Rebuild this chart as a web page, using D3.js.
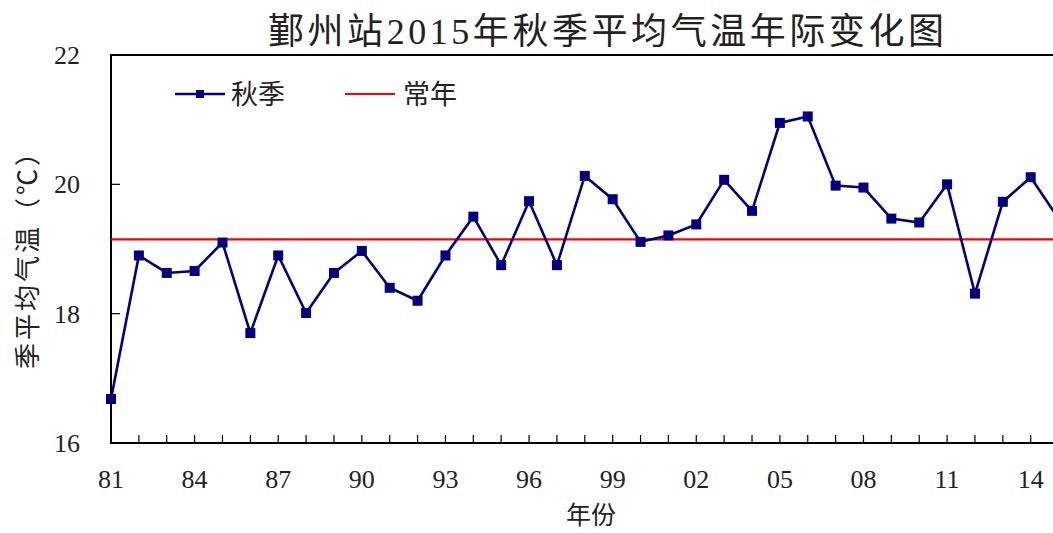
<!DOCTYPE html>
<html>
<head>
<meta charset="utf-8">
<script src="https://cdn.jsdelivr.net/npm/d3@7"></script>
<style>
  body { margin: 0; background: #fff; }
  text { fill: #222; }
</style>
</head>
<body>
<svg id="chart" width="1053" height="533"></svg>
<script>
// data
var years = [1981, 1982, 1983, 1984, 1985, 1986, 1987, 1988, 1989, 1990,
             1991, 1992, 1993, 1994, 1995, 1996, 1997, 1998, 1999, 2000,
             2001, 2002, 2003, 2004, 2005, 2006, 2007, 2008, 2009, 2010,
             2011, 2012, 2013, 2014, 2015];
var autumn = [16.68, 18.90, 18.63, 18.66, 19.10, 17.70, 18.90, 18.01, 18.63, 18.97,
              18.40, 18.20, 18.90, 19.50, 18.75, 19.74, 18.75, 20.13, 19.77, 19.11,
              19.21, 19.38, 20.07, 19.59, 20.95, 21.05, 19.98, 19.95, 19.47, 19.41,
              20.00, 18.31, 19.73, 20.11, 19.47];
var normal = 19.15;
var yTicks = [16, 18, 20, 22];
var xLabelYears = [1981, 1984, 1987, 1990, 1993, 1996, 1999, 2002, 2005, 2008, 2011, 2014];

var title = "鄞州站2015年秋季平均气温年际变化图";
var serif = "'Liberation Serif', 'Noto Sans CJK SC', serif";
var cjk = "'Noto Sans CJK SC', sans-serif";

var svg = d3.select("#chart");
var plotLeft = 111, plotTop = 55, plotBottom = 443;

var x = d3.scaleLinear().domain([1981, 2015]).range([plotLeft, plotLeft + 34 * 27.87]);
var y = d3.scaleLinear().domain([16, 22]).range([plotBottom, plotTop]);
var plotRight = x(2015);

// title
svg.append("text")
  .attr("x", 606).attr("y", 44)
  .attr("text-anchor", "middle")
  .style("font-family", serif)
  .style("font-size", "36px")
  .attr("textLength", 676)
  .text(title);

// frame
svg.append("rect")
  .attr("x", plotLeft).attr("y", plotTop)
  .attr("width", plotRight - plotLeft).attr("height", plotBottom - plotTop)
  .attr("fill", "none").attr("stroke", "#000").attr("stroke-width", 2);

// x ticks (inside), every year
svg.append("g").selectAll("line")
  .data(years)
  .join("line")
    .attr("x1", d => x(d)).attr("x2", d => x(d))
    .attr("y1", plotBottom).attr("y2", plotBottom - 8)
    .attr("stroke", "#000").attr("stroke-width", 1.2);

svg.append("g").selectAll("text")
  .data(xLabelYears)
  .join("text")
    .attr("x", d => x(d)).attr("y", 488)
    .attr("text-anchor", "middle")
    .style("font-family", serif).style("font-size", "26px")
    .text(d => String(d % 100).padStart(2, "0"));

// y ticks (inside)
svg.append("g").selectAll("line")
  .data(yTicks)
  .join("line")
    .attr("x1", plotLeft).attr("x2", plotLeft + 9)
    .attr("y1", d => y(d)).attr("y2", d => y(d))
    .attr("stroke", "#000").attr("stroke-width", 1.2);

svg.append("g").selectAll("text")
  .data(yTicks)
  .join("text")
    .attr("x", 80).attr("y", d => y(d) + 9)
    .attr("text-anchor", "end")
    .style("font-family", serif).style("font-size", "26px")
    .text(d => d);

// axis titles
svg.append("text")
  .attr("transform", "translate(37,253) rotate(-90)")
  .attr("text-anchor", "middle")
  .style("font-family", cjk).style("font-size", "26px")
  .style("letter-spacing", "3px")
  .text("季平均气温（℃）");

svg.append("text")
  .attr("x", 591).attr("y", 524)
  .attr("text-anchor", "middle")
  .style("font-family", cjk).style("font-size", "25px")
  .text("年份");

// normal line
svg.append("line")
  .attr("x1", plotLeft).attr("x2", plotRight)
  .attr("y1", y(normal)).attr("y2", y(normal))
  .attr("stroke", "#ff0000").attr("stroke-width", 2.2);

// autumn series
var pts = years.map((yr, i) => [yr, autumn[i]]);
svg.append("path")
  .datum(pts)
  .attr("fill", "none").attr("stroke", "#000080").attr("stroke-width", 2.6)
  .attr("d", d3.line().x(d => x(d[0])).y(d => y(d[1])));

svg.append("g").selectAll("rect")
  .data(pts)
  .join("rect")
    .attr("x", d => x(d[0]) - 5).attr("y", d => y(d[1]) - 5)
    .attr("width", 10).attr("height", 10)
    .attr("fill", "#000080");

// legend
var lg = svg.append("g");
lg.append("line").attr("x1", 175).attr("x2", 225).attr("y1", 94).attr("y2", 94)
  .attr("stroke", "#000080").attr("stroke-width", 2.5);
lg.append("rect").attr("x", 196).attr("y", 90).attr("width", 8).attr("height", 8)
  .attr("fill", "#000080");
lg.append("text").attr("x", 231).attr("y", 104)
  .style("font-family", cjk).style("font-size", "27px").text("秋季");
lg.append("line").attr("x1", 345).attr("x2", 395).attr("y1", 94).attr("y2", 94)
  .attr("stroke", "#ff0000").attr("stroke-width", 2.2);
lg.append("text").attr("x", 403).attr("y", 104)
  .style("font-family", cjk).style("font-size", "27px").text("常年");
</script>
</body>
</html>
